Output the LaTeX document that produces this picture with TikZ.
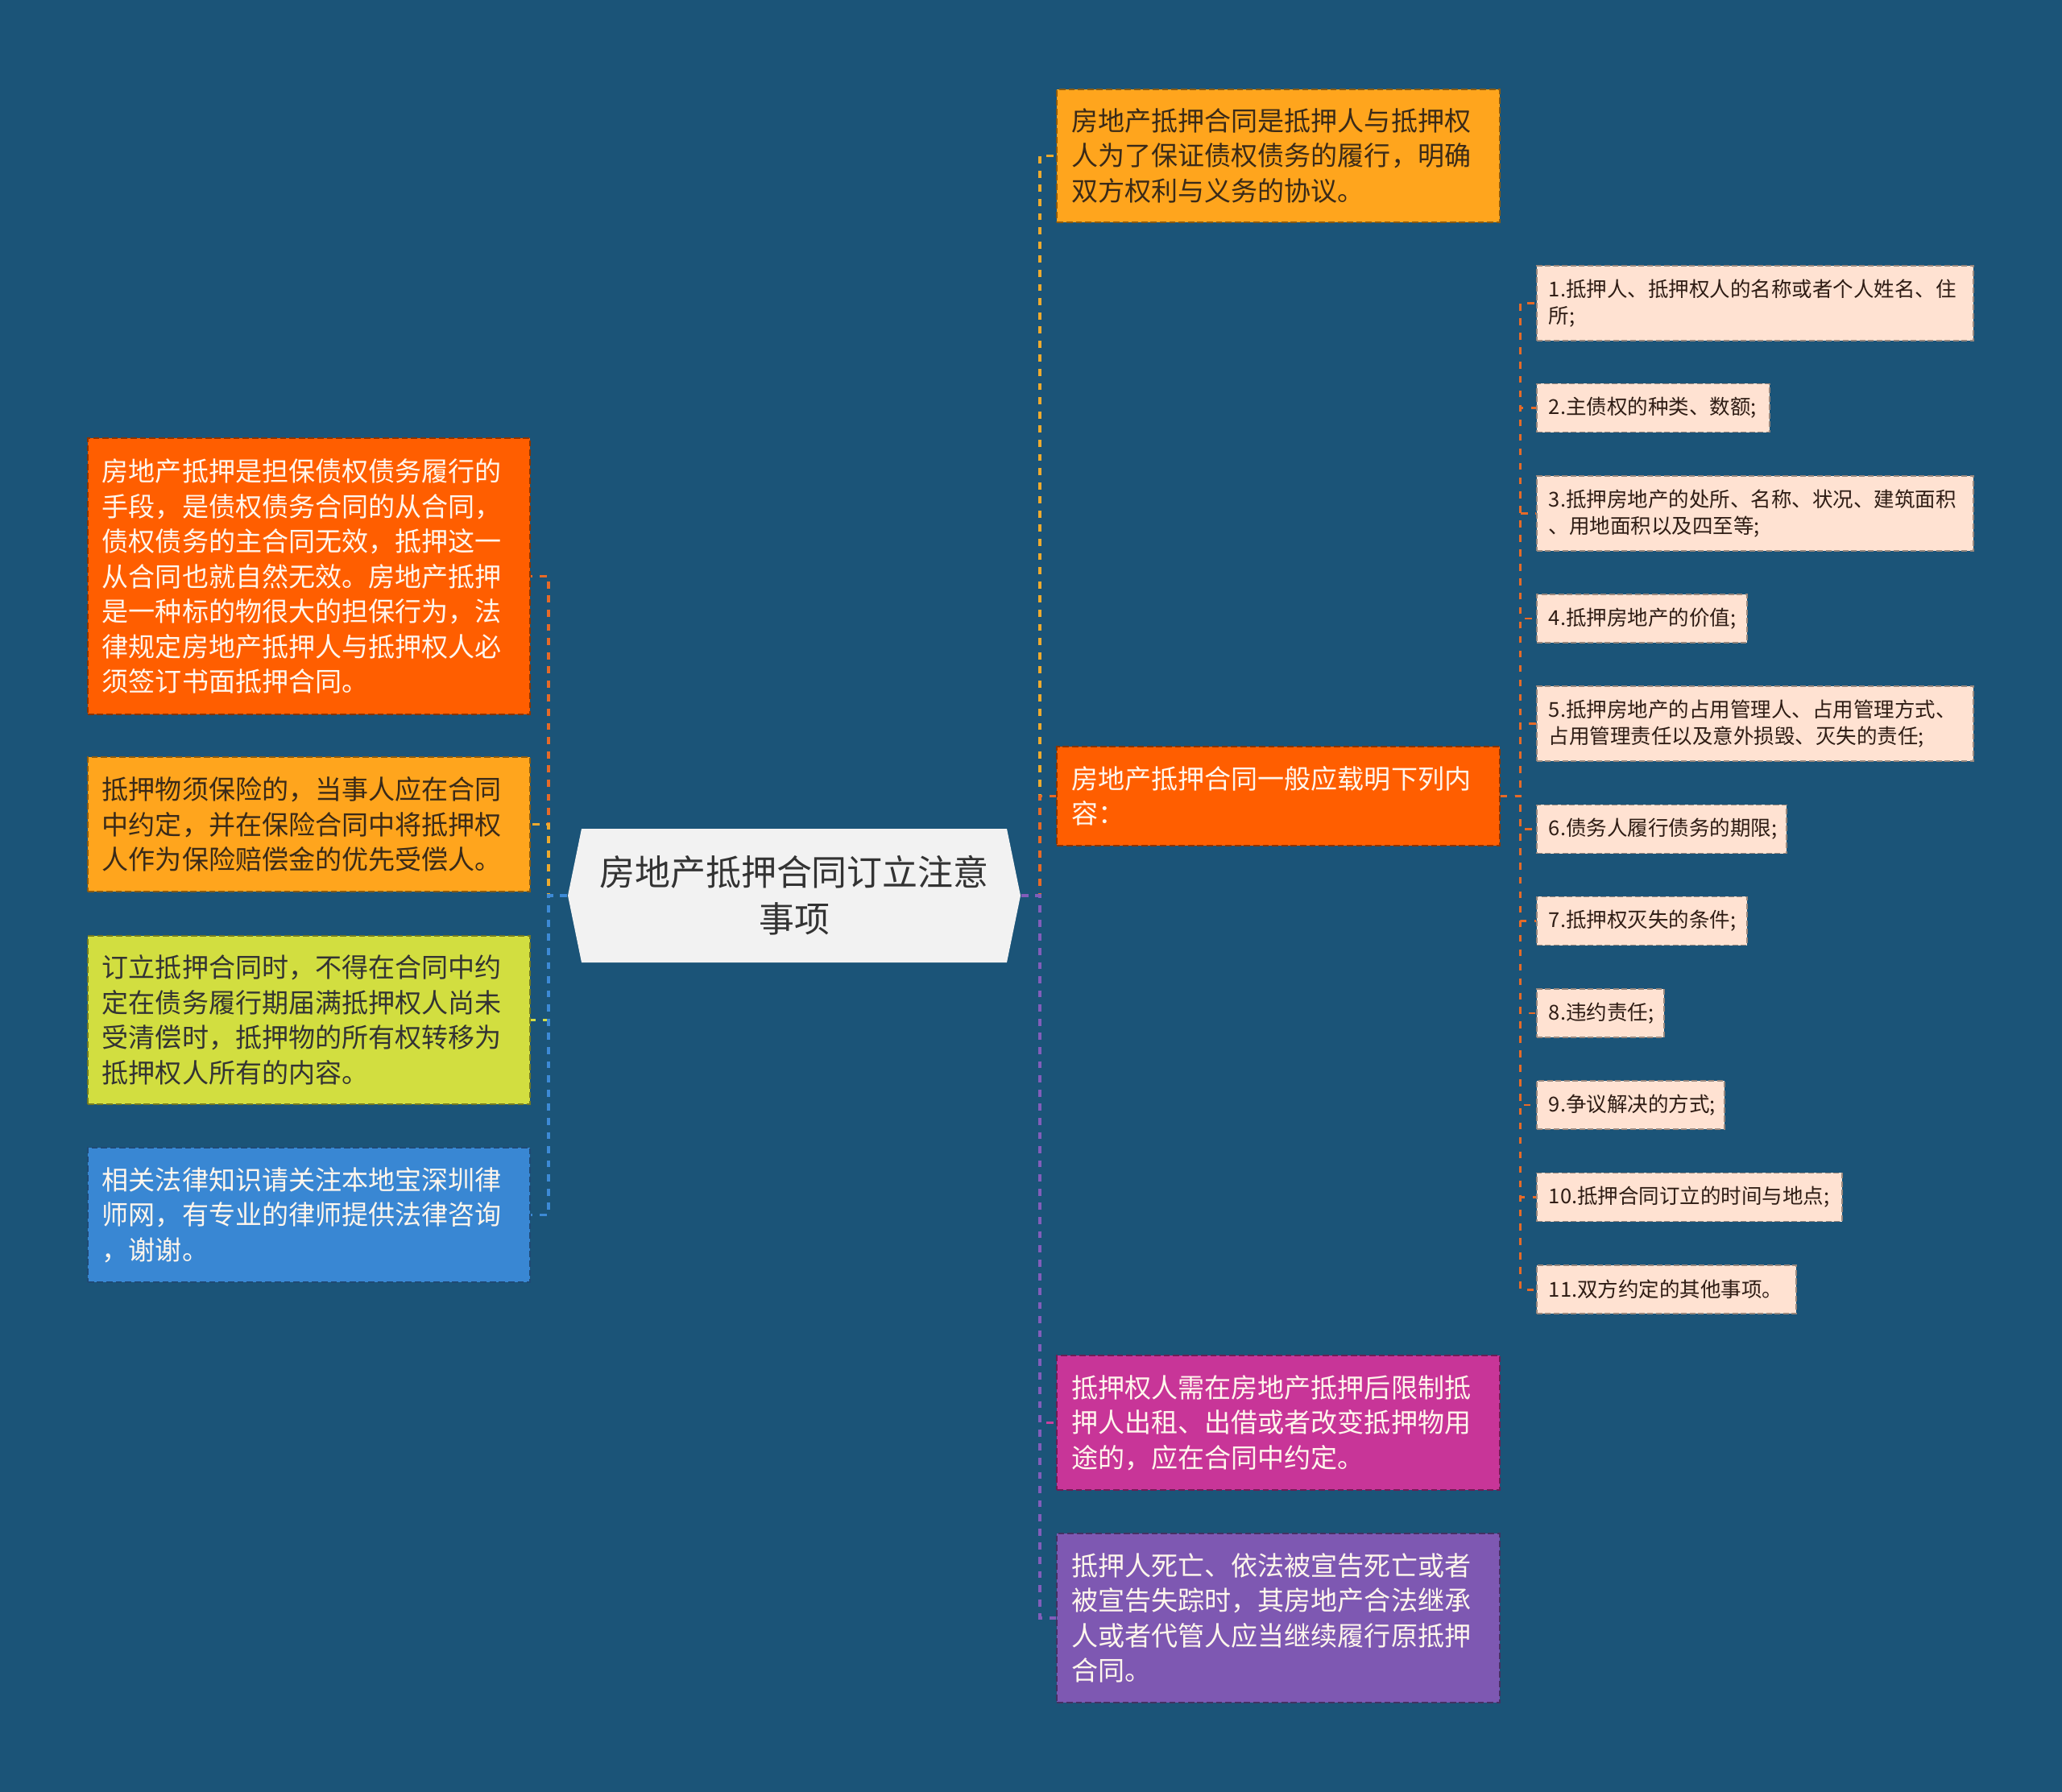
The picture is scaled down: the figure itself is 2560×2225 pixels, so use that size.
\documentclass[tikz,border=0pt]{standalone}
\usepackage{fontspec}
\usetikzlibrary{calc}
\newfontfamily\cjk{Noto Sans CJK SC}
\definecolor{bg}{HTML}{1B5478}
\definecolor{corange}{HTML}{FF5E00}
\definecolor{camber}{HTML}{FFA51D}
\definecolor{clime}{HTML}{D2DE40}
\definecolor{cblue}{HTML}{3987D3}
\definecolor{cmag}{HTML}{C83598}
\definecolor{cpurp}{HTML}{7E58B2}
\definecolor{cpeach}{HTML}{FFE2D2}
\definecolor{croot}{HTML}{F2F2F2}
\definecolor{tdark}{HTML}{3A2A18}
\definecolor{tlight}{HTML}{FFF6EC}
\definecolor{tsmall}{HTML}{2E1C14}
\definecolor{korange}{HTML}{E66A28}
\definecolor{kamber}{HTML}{EDAA2E}
\definecolor{klime}{HTML}{D4DE46}
\definecolor{kblue}{HTML}{3D8AD6}
\definecolor{kmag}{HTML}{C8409E}
\definecolor{kpurp}{HTML}{825DBA}
\begin{document}
\begin{tikzpicture}[x=0.01cm,y=-0.01cm,
  mbox/.style={rectangle, fill=#1, draw=#1!55!black, line width=0.55pt,
    dash pattern=on 2.2pt off 1.1pt, inner xsep=0.18cm, inner ysep=0pt,
    text width=5.13cm, align=left,
    font=\cjk\fontsize{9.4pt}{12.38pt}\selectfont},
  sbox/.style={rectangle, fill=cpeach, draw=cpeach!60!black, line width=0.5pt,
    dash pattern=on 2pt off 1pt, inner xsep=0.15cm, inner ysep=0pt,
    text width=#1, align=left, anchor=west, text=tsmall,
    font=\cjk\fontsize{7.25pt}{9.4pt}\selectfont},
  one/.style={minimum height=0.60cm},
  two/.style={minimum height=0.93cm},
  con/.style={draw=#1, line width=1pt, dash pattern=on 2.5pt off 2.5pt},
  scon/.style={draw=#1, line width=0.85pt, dash pattern=on 2.4pt off 2.7pt},
]
\fill[bg] (0,0) rectangle (2560,2225);
\useasboundingbox (0,0) rectangle (2560,2225);

% root
\coordinate (rc) at (986,1112);
\fill[croot] ($(rc)+(-264,-83)$) -- ($(rc)+(264,-83)$) -- ($(rc)+(281,0)$) --
  ($(rc)+(264,83)$) -- ($(rc)+(-264,83)$) -- ($(rc)+(-281,0)$) -- cycle;
\node[minimum width=5.62cm, minimum height=1.66cm, inner sep=0pt, align=center,
  text=black!80, font=\cjk\fontsize{12.5pt}{16.5pt}\selectfont] (root) at (rc)
  {房地产抵押合同订立注意\\事项};

% left boxes
\node[mbox=corange, text=tlight, minimum height=3.43cm] (L1) at (383.5,715.5)
 {房地产抵押是担保债权债务履行的\\手段，是债权债务合同的从合同，\\债权债务的主合同无效，抵押这一\\从合同也就自然无效。房地产抵押\\是一种标的物很大的担保行为，法\\律规定房地产抵押人与抵押权人必\\须签订书面抵押合同。};
\node[mbox=camber, text=tdark, minimum height=1.67cm] (L2) at (383.5,1023.5)
 {抵押物须保险的，当事人应在合同\\中约定，并在保险合同中将抵押权\\人作为保险赔偿金的优先受偿人。};
\node[mbox=clime, text=black!80, minimum height=2.09cm] (L3) at (383.5,1266.5)
 {订立抵押合同时，不得在合同中约\\定在债务履行期届满抵押权人尚未\\受清偿时，抵押物的所有权转移为\\抵押权人所有的内容。};
\node[mbox=cblue, text=tlight, minimum height=1.67cm] (L4) at (383.5,1508.5)
 {相关法律知识请关注本地宝深圳律\\师网，有专业的律师提供法律咨询\\，谢谢。};

% right boxes
\node[mbox=camber, text=tdark, minimum height=1.65cm] (R1) at (1587,193.5)
 {房地产抵押合同是抵押人与抵押权\\人为了保证债权债务的履行，明确\\双方权利与义务的协议。};
\node[mbox=corange, text=tlight, minimum height=1.23cm] (R2) at (1587,988.5)
 {房地产抵押合同一般应载明下列内\\容：};
\node[mbox=cmag, text=tlight, minimum height=1.67cm] (R3) at (1587,1766.5)
 {抵押权人需在房地产抵押后限制抵\\押人出租、出借或者改变抵押物用\\途的，应在合同中约定。};
\node[mbox=cpurp, text=tlight, minimum height=2.10cm] (R4) at (1587,2009)
 {抵押人死亡、依法被宣告死亡或者\\被宣告失踪时，其房地产合法继承\\人或者代管人应当继续履行原抵押\\合同。};

% small boxes
\node[sbox=5.12cm, two] (S1) at (1907,376.5) {1.抵押人、抵押权人的名称或者个人姓名、住\\所;};
\node[sbox=2.59cm, one] (S2) at (1907,506.5) {2.主债权的种类、数额;};
\node[sbox=5.12cm, two] (S3) at (1907,637.5) {3.抵押房地产的处所、名称、状况、建筑面积\\、用地面积以及四至等;};
\node[sbox=2.31cm, one] (S4) at (1907,768) {4.抵押房地产的价值;};
\node[sbox=5.12cm, two] (S5) at (1907,898.5) {5.抵押房地产的占用管理人、占用管理方式、\\占用管理责任以及意外损毁、灭失的责任;};
\node[sbox=2.80cm, one] (S6) at (1907,1029.5) {6.债务人履行债务的期限;};
\node[sbox=2.31cm, one] (S7) at (1907,1143.5) {7.抵押权灭失的条件;};
\node[sbox=1.28cm, one] (S8) at (1907,1258) {8.违约责任;};
\node[sbox=2.03cm, one] (S9) at (1907,1372) {9.争议解决的方式;};
\node[sbox=3.49cm, one] (S10) at (1907,1486.5) {10.抵押合同订立的时间与地点;};
\node[sbox=2.92cm, one] (S11) at (1907,1601) {11.双方约定的其他事项。};

% left connectors
\draw[con=korange] (root.west) -- ++(-23,0) |- (L1.east);
\draw[con=klime] (root.west) -- ++(-23,0) |- (L3.east);
\draw[con=kamber] (root.west) -- ++(-23,0) |- (L2.east);
\draw[con=kblue] (root.west) -- ++(-23,0) |- (L4.east);

% right connectors
\draw[con=kamber] (root.east) -- ++(23,0) |- (R1.west);
\draw[con=korange] (root.east) -- ++(23,0) |- (R2.west);
\draw[con=kmag] (root.east) -- ++(23,0) |- (R3.west);
\draw[con=kpurp] (root.east) -- ++(23,0) |- (R4.west);

% sub connectors
\foreach \s in {S1,S2,S3,S4,S5,S6,S7,S8,S9,S10,S11}
  \draw[scon=korange] (R2.east) -- ++(25,0) |- (\s.west);
\end{tikzpicture}
\end{document}
